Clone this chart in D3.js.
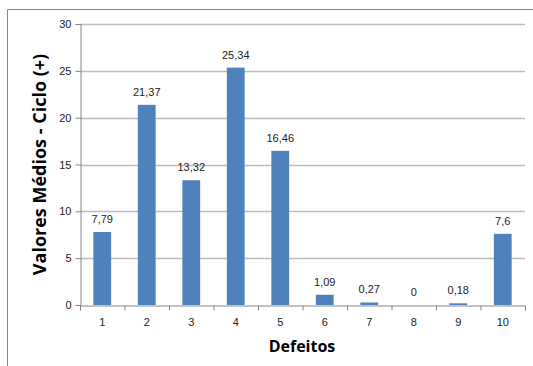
<!DOCTYPE html>
<html><head><meta charset="utf-8">
<script src="https://cdn.jsdelivr.net/npm/d3@7"></script>
<style>body{margin:0;background:#fff}svg{display:block}text{font-family:"Liberation Sans",Arial,sans-serif}</style>
</head><body><svg id="c" width="533" height="366"></svg>
<script>
const categories = ["1","2","3","4","5","6","7","8","9","10"];
const values = [7.79, 21.37, 13.32, 25.34, 16.46, 1.09, 0.27, 0, 0.18, 7.6];
const valueLabels = ["7,79","21,37","13,32","25,34","16,46","1,09","0,27","0","0,18","7,6"];
const yTicks = [0,5,10,15,20,25,30];

const svg = d3.select("#c");
const L=80, R=525, T=24, B=305;
const x = d3.scaleBand().domain(categories).range([L,R]).paddingInner(0.6).paddingOuter(0.3);
const y = d3.scaleLinear().domain([0,30]).range([B,T]);

// frame
svg.append("path").attr("d","M7.5,366 V9.5 H533").attr("fill","none").attr("stroke","#878787").attr("stroke-width",1);

// gridlines
svg.append("g").selectAll("line").data(yTicks.filter(d=>d>0)).join("line")
  .attr("x1",L).attr("x2",R).attr("y1",d=>Math.round(y(d))+0.5).attr("y2",d=>Math.round(y(d))+0.5)
  .attr("stroke","#bdbdbd").attr("stroke-width",1.5);

// y axis
const ya = svg.append("g").attr("transform",`translate(${L+0.5},0)`)
  .call(d3.axisLeft(y).tickValues(yTicks).tickSize(5).tickPadding(4));
ya.select(".domain").attr("stroke","#868686");
ya.selectAll(".tick line").attr("stroke","#868686");
ya.selectAll("text").attr("font-size",11).attr("fill","#222");

// x axis
const xa = svg.append("g").attr("transform",`translate(0,${B+0.5})`)
  .call(d3.axisBottom(d3.scaleLinear().domain([0,10]).range([L,R])).tickValues(d3.range(0,11)).tickSize(5).tickFormat(""));
xa.select(".domain").attr("stroke","#868686");
xa.selectAll(".tick line").attr("stroke","#868686");
svg.append("g").selectAll("text").data(categories).join("text")
  .attr("x",d=>x(d)+x.bandwidth()/2).attr("y",B+21).attr("text-anchor","middle")
  .attr("font-size",11).attr("fill","#222").text(d=>d);

// bars
svg.append("g").selectAll("rect").data(values).join("rect")
  .attr("x",(d,i)=>x(categories[i])).attr("width",x.bandwidth())
  .attr("y",d=>y(d)).attr("height",d=>B-y(d)).attr("fill","#4f81bd");

// value labels
svg.append("g").selectAll("text").data(values).join("text")
  .attr("x",(d,i)=>x(categories[i])+x.bandwidth()/2).attr("y",d=>y(d)-9)
  .attr("text-anchor","middle").attr("font-size",11).attr("fill","#222")
  .text((d,i)=>valueLabels[i]);

// titles
svg.append("text").attr("transform",`translate(46,${(T+B)/2}) rotate(-90)`)
  .attr("text-anchor","middle").attr("font-size",18).attr("font-weight","bold").attr("fill","#000")
  .style("font-family","'Open Sans',sans-serif")
  .text("Valores Médios - Ciclo (+)");
svg.append("text").attr("x",302).attr("y",352).attr("text-anchor","middle")
  .style("font-family","'Open Sans',sans-serif")
  .attr("font-size",16).attr("font-weight","bold").attr("fill","#000").text("Defeitos");
</script></body></html>
